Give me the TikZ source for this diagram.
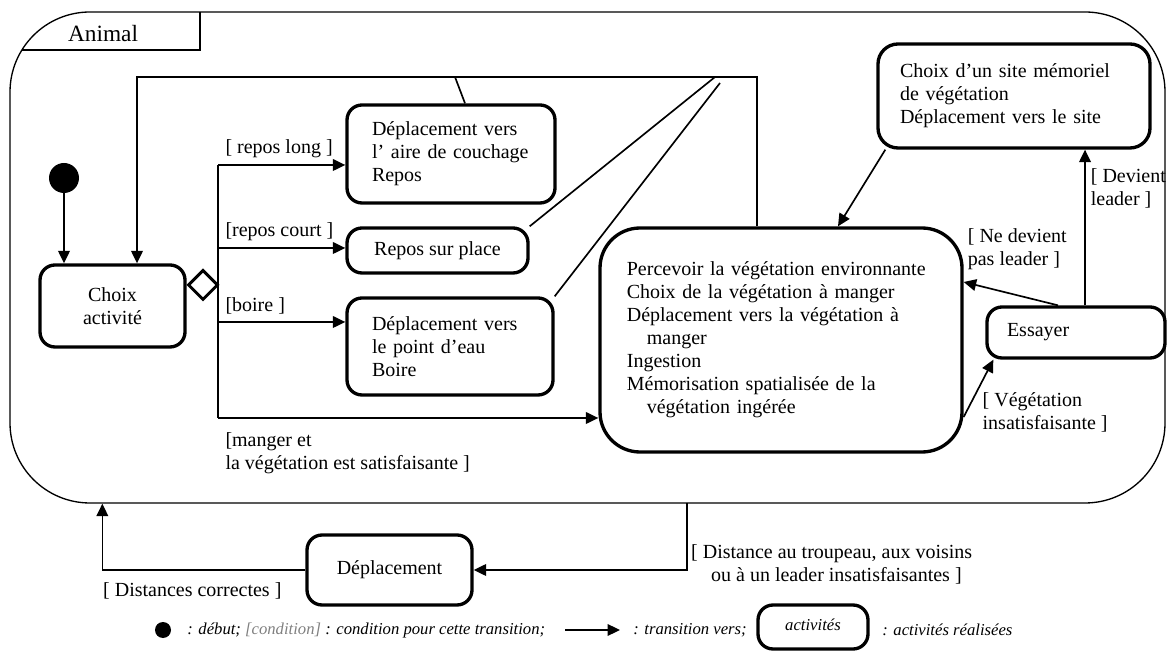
\documentclass[tikz,border=0pt]{standalone}
\usepackage{fontspec}
\setmainfont{Liberation Serif}
\usetikzlibrary{shapes, shapes.geometric, arrows.meta, positioning}

\begin{document}
\begin{tikzpicture}[
  x=0.6pt, y=-0.6pt,
  font=\fontsize{12}{13.8}\selectfont,
  activite/.style={draw, rectangle, rounded corners=9pt, line width=2pt, inner sep=0pt},
  trans/.style={-{Triangle[length=7.5pt,width=7pt]}, line width=1pt},
  retour/.style={line width=1pt},
  garde/.style={inner sep=2pt, align=left},
  legende/.style={font=\fontsize{10}{12}\selectfont\itshape}]

  \useasboundingbox (0,0) rectangle (1176,651);

  \node[draw, line width=0.8pt, rounded corners=48pt, minimum width=693pt, minimum height=294.6pt, inner sep=0pt] (animal) at (587.5,257.5) {};
  \draw[line width=0.8pt] (22,50) -- (200,50) -- (200,12);
  \node[font=\fontsize{14}{16}\selectfont] (nom) at (103,34) {Animal};

  \node[circle, fill, minimum size=18pt, inner sep=0pt] (debut) at (64,178) {};
  \node[activite, minimum width=87pt, minimum height=49.2pt, align=center] (choix) at (112.5,306) {Choix\\activité};
  \node[diamond, draw, line width=1.8pt, minimum width=18pt, minimum height=18pt, inner sep=0pt] (fourche) at (203,285) {};

  \node[activite, minimum width=124.8pt, minimum height=58.8pt, text width=94.8pt, align=left] (aire) at (451,154) {Déplacement vers\\l’ aire de couchage\\Repos};
  \node[activite, minimum width=108.6pt, minimum height=27pt, align=center] (repos) at (437.5,250.5) {Repos sur place};
  \node[activite, minimum width=123.6pt, minimum height=58.2pt, text width=93.6pt, align=left] (eau) at (450,346.5) {Déplacement vers\\le point d’eau\\Boire};
  \node[activite, rounded corners=24pt, minimum width=217.2pt, minimum height=134.4pt, text width=185pt, align=left] (manger) at (781,340) {Percevoir la végétation environnante\\Choix de la végétation à manger\\Déplacement vers la végétation à\\\hspace*{1em}manger\\Ingestion\\Mémorisation spatialisée de la\\\hspace*{1em}végétation ingérée};
  \node[activite, rounded corners=12pt, minimum width=163.2pt, minimum height=62.4pt, text width=136.8pt, align=left] (site) at (1014,96) {Choix d’un site mémoriel\\de végétation\\Déplacement vers le site};
  \node[activite, minimum width=106.8pt, minimum height=30.6pt, text width=82.8pt, align=left] (essayer) at (1076,332.5) {Essayer};
  \node[activite, minimum width=99pt, minimum height=42pt, align=center] (dep) at (389.5,570) {Déplacement};

  \coordinate (hautg) at (137,77);
  \coordinate (hautm) at (455,77);
  \coordinate (hautr) at (715,77);
  \coordinate (hautd) at (757,77);
  \coordinate (hautr2) at (720,83);
  \coordinate (g1) at (218,165);
  \coordinate (g2) at (218,248);
  \coordinate (g3) at (218,322);
  \coordinate (g4) at (218,418);
  \coordinate (sortie) at (687,503);

  \draw[trans] (debut) -- (debut |- choix.north);
  \draw[trans] ([xshift=8.4pt]aire.north) -- (hautm) -- (hautg) -- (hautg |- choix.north);
  \draw[retour] (hautd |- manger.north) -- (hautd) -- (hautm);
  \draw[retour] (repos.north east) -- (hautr);
  \draw[retour] (eau.north east) -- (hautr2);

  \draw[retour] (g1) -- (g4);
  \draw[trans] (g1) -- node[garde, pos=0, anchor=south west, xshift=2pt, yshift=2pt] {[ repos long ]} (g1 -| aire.west);
  \draw[trans] (g2) -- node[garde, pos=0, anchor=south west, xshift=2pt, yshift=2pt] {[repos court ]} (g2 -| repos.west);
  \draw[trans] (g3) -- node[garde, pos=0, anchor=south west, xshift=2pt, yshift=2pt] {[boire ]} (g3 -| eau.west);
  \draw[trans] (g4) -- node[garde, pos=0, anchor=north west, xshift=2pt, yshift=-6pt] {[manger et\\la végétation est satisfaisante ]} (g4 -| manger.west);

  \draw[trans] ([xshift=5.4pt]site.south west) -- ([xshift=34.2pt]manger.north);
  \draw[trans] ([xshift=5.4pt]essayer.north) -- node[garde, pos=0.75, anchor=west, xshift=1pt] {[ Devient\\leader ]} ([xshift=5.4pt]essayer.north |- site.south);
  \draw[trans] ([xshift=-10.8pt]essayer.north) -- node[garde, pos=1, anchor=south west, yshift=5pt] {[ Ne devient\\pas leader ]} ([yshift=34.8pt]manger.east);
  \draw[trans] ([yshift=-46.2pt]manger.east) -- node[garde, pos=0.5, anchor=north west] {[ Végétation\\insatisfaisante ]} ([xshift=4.8pt]essayer.south west);

  \draw[trans] (sortie) |- node[garde, pos=0.5, anchor=west, yshift=3.3pt] {[ Distance au troupeau, aux voisins\\\hspace*{1em}ou à un leader insatisfaisantes ]} (dep.east);
  \draw[trans] (dep.west) -| node[garde, pos=0.5, anchor=north west, xshift=-2pt, yshift=-5pt] {[ Distances correctes ]} ([xshift=55.8pt]animal.south west);

  \node[circle, fill, minimum size=9.6pt, inner sep=0pt] (lpoint) at (163,630) {};
  \node[legende, anchor=west, inner sep=0pt] (lpointtxt) at (187,630) {: début; \textcolor{gray}{[condition]} : condition pour cette transition;};
  \coordinate (lfleche) at (565,630);
  \node[legende, anchor=west, inner xsep=7.8pt] (ltrans) at (620,630) {: transition vers;};
  \draw[trans] (lfleche) -- (ltrans.west);
  \node[activite, minimum width=66pt, minimum height=26.4pt, legende] (lactivite) at (813,627) {\raisebox{3pt}{activités}};
  \node[legende, anchor=west, inner sep=0pt] (lactivitetxt) at (882,630) {: activités réalisées};
\end{tikzpicture}
\end{document}
